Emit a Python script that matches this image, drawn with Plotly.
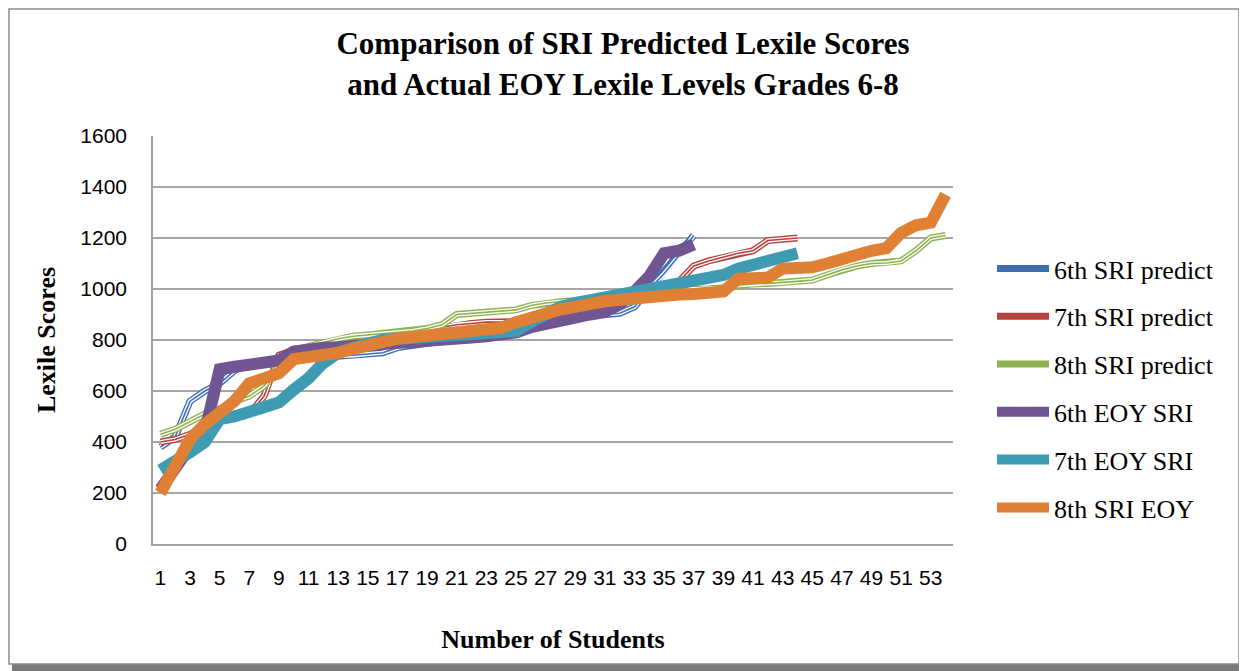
import plotly.graph_objects as go

students = [str(i) for i in range(1, 55)]
tick_labels = [str(i) for i in range(1, 55, 2)]

pred_6th = [380, 420, 560, 600, 630, 680, 710, 715, 720, 725, 730, 735, 738, 740, 745, 750, 770, 780, 790,
            795, 800, 810, 820, 825, 830, 850, 870, 885, 890, 895, 900, 905, 930, 1000, 1060, 1130, 1210]
pred_7th = [400, 410, 430, 460, 490, 500, 510, 580, 740, 760, 770, 780, 790, 800, 810, 820, 825, 830, 840,
            850, 860, 865, 870, 870, 870, 870, 870, 875, 880, 920, 940, 955, 970, 985, 1000, 1030, 1090, 1110,
            1125, 1140, 1150, 1190, 1195, 1200]
pred_8th = [430, 450, 480, 510, 530, 560, 580, 620, 700, 760, 775, 790, 805, 815, 820, 825, 830, 835, 845,
            860, 900, 905, 910, 915, 918, 935, 945, 950, 955, 965, 975, 985, 990, 995, 995, 998, 1000, 1000,
            1005, 1015, 1020, 1022, 1025, 1030, 1035, 1055, 1075, 1090, 1100, 1102, 1110, 1150, 1200, 1210]
eoy_6th = [215, 300, 380, 440, 685, 695, 700, 710, 720, 755, 765, 770, 772, 775, 780, 785, 788, 792, 796,
           800, 805, 810, 815, 820, 830, 850, 865, 880, 890, 900, 910, 940, 990, 1050, 1140, 1150, 1175]
eoy_7th = [290, 320, 360, 400, 490, 500, 520, 540, 555, 605, 650, 710, 750, 770, 790, 800, 805, 810, 815,
           820, 820, 825, 830, 830, 835, 870, 900, 930, 945, 955, 965, 975, 990, 1000, 1005, 1015, 1025, 1035,
           1055, 1080, 1095, 1105, 1115, 1140]
eoy_8th = [200, 310, 410, 470, 520, 560, 630, 645, 670, 725, 730, 740, 750, 765, 780, 795, 805, 812, 818,
           825, 830, 835, 840, 848, 870, 890, 905, 920, 930, 945, 952, 958, 965, 972, 975, 978, 980, 985, 990,
           1040, 1043, 1045, 1080, 1082, 1085, 1100, 1120, 1140, 1150, 1160, 1220, 1250, 1260, 1370]

fig = go.Figure()

predict = [("6th SRI predict", pred_6th, "#3f6fb3"),
           ("7th SRI predict", pred_7th, "#b5423f"),
           ("8th SRI predict", pred_8th, "#8fb24f")]
for name, vals, col in predict:
    xs = students[:len(vals)]
    fig.add_trace(go.Scatter(x=xs, y=vals, mode="lines", name=name, legendgroup=name,
                             line=dict(color=col, width=7), showlegend=True))
    fig.add_trace(go.Scatter(x=xs, y=vals, mode="lines", name=name, legendgroup=name,
                             line=dict(color="white", width=4.2), showlegend=False, hoverinfo="skip"))
    fig.add_trace(go.Scatter(x=xs, y=vals, mode="lines", name=name, legendgroup=name,
                             line=dict(color=col, width=1.6), showlegend=False, hoverinfo="skip"))

eoy = [("6th EOY SRI", eoy_6th, "#6f5591"),
       ("7th EOY SRI", eoy_7th, "#3f9bb2"),
       ("8th SRI EOY", eoy_8th, "#df8035")]
for name, vals, col in eoy:
    fig.add_trace(go.Scatter(x=students[:len(vals)], y=vals, mode="lines", name=name, legendgroup=name,
                             line=dict(color=col, width=12)))

# page coordinates -> paper coords (plot area spans page x 153..953, y 136..544)
def px(x):
    return (x - 153) / 800.0

def py(y):
    return (544 - y) / 408.0

fig.add_shape(type="rect", xref="paper", yref="paper", x0=px(1239), x1=px(1248), y0=py(672), y1=py(12),
              fillcolor="#7a7a7a", line=dict(width=0), layer="below")
fig.add_shape(type="rect", xref="paper", yref="paper", x0=px(12), x1=px(1248), y0=py(672), y1=py(664),
              fillcolor="#7a7a7a", line=dict(width=0), layer="below")
fig.add_shape(type="rect", xref="paper", yref="paper", x0=px(9), x1=px(1239), y0=py(664), y1=py(9),
              fillcolor="rgba(0,0,0,0)", line=dict(color="#8c8c8c", width=1.5), layer="below")

fig.update_layout(
    width=1239, height=663,
    margin=dict(l=145, r=294, t=128, b=127),
    paper_bgcolor="white", plot_bgcolor="white",
    title=dict(text="Comparison of SRI Predicted Lexile Scores<br>and Actual EOY Lexile Levels Grades 6-8",
               x=0.4964, xref="container", xanchor="center", y=0.93, yref="container", yanchor="top",
               font=dict(family="Liberation Serif", size=31, color="black", weight="bold")),
    xaxis=dict(type="category", categoryorder="array", categoryarray=students,
               range=[-0.5, 53.5], tickmode="array", tickvals=tick_labels, ticktext=tick_labels,
               showgrid=False, showline=True, linecolor="#a0a0a0", linewidth=1.5,
               ticks="outside", ticklen=14, tickcolor="rgba(0,0,0,0)",
               tickfont=dict(family="Liberation Sans", size=21, color="black"),
               title=dict(text="Number of Students", standoff=42,
                          font=dict(family="Liberation Serif", size=26, color="black", weight="bold"))),
    yaxis=dict(range=[0, 1600], dtick=200, tick0=0, showgrid=True, gridcolor="#a6a6a6", gridwidth=1.5,
               showline=True, linecolor="#a0a0a0", linewidth=1.5, zeroline=False,
               ticks="outside", ticklen=20, tickcolor="rgba(0,0,0,0)",
               tickfont=dict(family="Liberation Sans", size=21, color="black"),
               title=dict(text="Lexile Scores", standoff=17,
                          font=dict(family="Liberation Serif", size=26, color="black", weight="bold"))),
    legend=dict(x=px(992), xanchor="left", y=py(245), yanchor="top",
                font=dict(family="Liberation Serif", size=26, color="black"),
                tracegroupgap=11, traceorder="grouped", itemwidth=52,
                bgcolor="rgba(0,0,0,0)"),
    showlegend=True,
)

fig.write_html("out.html")
